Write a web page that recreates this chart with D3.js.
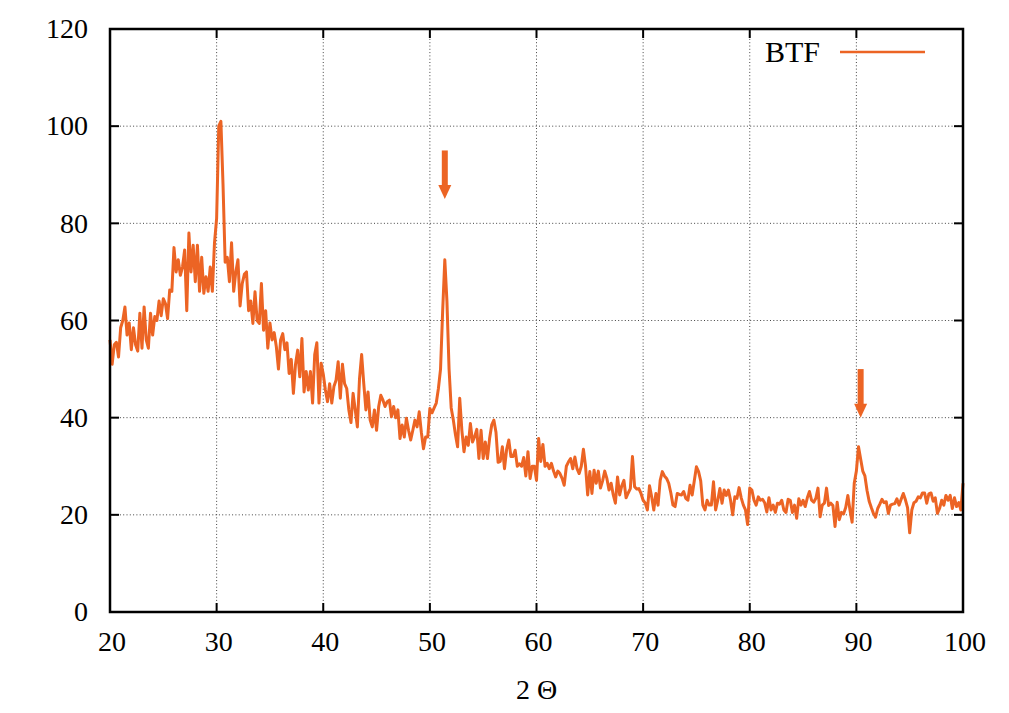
<!DOCTYPE html>
<html>
<head>
<meta charset="utf-8">
<script src="https://cdn.jsdelivr.net/npm/d3@7/dist/d3.min.js"></script>
<style>
  body { margin: 0; background: #fff; }
  text { font-family: "Liberation Serif", "DejaVu Serif", serif; fill: #000; }
</style>
</head>
<body>
<div id="chart-area"></div>
<script>
// XRD scan of BTF, 2 theta from 20 to 100 deg, 0.2 deg step
var scanStart = 20;
var scanStep = 0.2;
var btf = [
  // 20 - 30
  56, 51, 55, 55.5, 52.5, 58.5, 60, 62.8, 57, 59.5,
  54, 58.5, 55, 53.7, 61.5, 54.3, 62.8, 56, 54.3, 61.5,
  57, 60.8, 60, 64, 61, 64.5, 63.5, 60.4, 66.3, 66,
  75, 70, 72.5, 69.3, 71, 74.5, 62, 78, 70, 75.5,
  68, 75.5, 66, 73, 65.6, 69, 66, 71, 66, 76,
  // 30 - 40
  81, 100, 101, 88, 72, 73, 68, 76, 66, 70,
  72.5, 63, 67.6, 69.5, 70, 62, 64, 59.4, 65.9, 60,
  59.4, 67.6, 58, 62, 54.3, 59.5, 56, 57.5, 54.6, 50,
  56, 57.3, 54, 55.4, 49.1, 52, 45, 51, 53.9, 48.4,
  56.3, 45.3, 49.5, 45.7, 49.5, 43, 53, 55.4, 43, 51.2,
  // 40 - 50
  49, 45.7, 43.3, 47, 43, 46.4, 47.7, 51.5, 44, 51,
  47, 46, 41.6, 39, 45, 41.6, 38.1, 48, 53, 47,
  41.6, 45.3, 39.5, 38.1, 41.6, 37.4, 42.3, 44.6, 43.6, 42.3,
  43.3, 43.6, 40.2, 42.3, 40, 41.6, 35.7, 38.5, 36, 39.9,
  37.4, 35.4, 37.4, 39.5, 38.1, 41.2, 37, 33.6, 36, 36,
  // 50 - 60
  41.9, 41, 42, 43, 46, 50, 62, 72.5, 64, 50,
  42, 39.5, 36.5, 34, 44, 37.4, 33, 36, 34.3, 38.8,
  35, 36.1, 37.6, 31.6, 37.4, 31.6, 35, 31.6, 35.7, 38.5,
  39.5, 37, 30.8, 31, 34, 29.5, 33.5, 35.4, 32, 32,
  33.3, 30, 30.5, 30, 31.8, 28, 33, 27.5, 30, 30,
  // 60 - 70
  27.1, 35.7, 31, 34.5, 30, 30.6, 29.5, 30.6, 29, 27.8,
  29, 28.5, 27.5, 26.1, 30, 30.9, 31.6, 29.5, 31.9, 29.5,
  28.5, 30, 33.5, 30, 24.1, 28.9, 24.4, 29.2, 26.5, 29,
  25.5, 27, 29, 27.5, 25.1, 26.5, 24.1, 22.4, 27.8, 24.1,
  26, 27.1, 23.5, 24.5, 25.4, 32, 25.8, 25.3, 25.4, 24.4,
  // 70 - 80
  23, 22.4, 21, 26, 23.7, 21, 24.4, 22, 27.1, 28.9,
  28, 27.5, 26.5, 24.5, 22, 21.7, 24.4, 24.2, 24.1, 24.8,
  23.4, 23, 26.1, 24.1, 27, 29.9, 28.9, 27, 22, 21,
  23, 22, 22, 26.8, 21, 23, 25.4, 22.4, 25.1, 24,
  25.1, 23, 20, 23.7, 23.4, 25.6, 23.5, 22, 21, 18,
  // 80 - 90
  25.5, 25.1, 23, 22, 23.7, 23, 23.2, 22.5, 20.6, 23.5,
  21, 22, 20.5, 22.4, 22.2, 23, 21, 20.5, 23.2, 23,
  20.5, 22, 19.3, 23.3, 22, 23, 21.7, 23.5, 24.8, 23,
  22.6, 23.4, 25.5, 19.6, 22, 22.4, 25.5, 21.9, 22.4, 21.9,
  17.6, 22.6, 19, 20.5, 20.2, 21.5, 24, 21, 18.5, 26.5,
  // 90 - 100
  29, 34, 31.5, 29, 28, 25, 22.8, 21.5, 20.3, 19.5,
  21.3, 22.2, 23.2, 22.5, 22.7, 20.3, 22, 22.2, 22.3, 23.3,
  22, 23.2, 24.4, 23.1, 21.5, 16.3, 21, 22.5, 22.8, 23.7,
  23.5, 24.5, 24.5, 22.4, 24.3, 24.5, 22.8, 23.5, 20.3, 21.3,
  23, 22, 24, 23, 24, 21.3, 23.5, 21.7, 22.5, 21,
  26.5
];
var xTicks = [20, 30, 40, 50, 60, 70, 80, 90, 100];
var yTicks = [0, 20, 40, 60, 80, 100, 120];
// peak markers: angle, arrow start and end intensity
var arrowAngles = [51.4, 90.4];
var arrowFrom = [95, 50];
var arrowTo = [85, 40];
var seriesName = 'BTF';
var xTitle = '2 \u0398';

var lineColor = '#ec6424';
var margin = {top: 29, left: 110, right: 46, bottom: 101};
var width = 1009 - margin.left - margin.right;
var height = 713 - margin.top - margin.bottom;

var svg = d3.select('#chart-area')
  .append('svg')
    .attr('width', 1009)
    .attr('height', 713)
  .append('g')
    .attr('transform', 'translate(' + margin.left + ',' + margin.top + ')');

var x = d3.scaleLinear()
  .domain([20, 100])
  .range([0, width]);
var y = d3.scaleLinear()
  .domain([0, 120])
  .range([height, 0]);

// Grid
svg.selectAll('.xgrid')
  .data(xTicks.slice(1, -1))
  .enter().append('line')
    .attr('class', 'xgrid')
    .attr('x1', d => x(d)).attr('x2', d => x(d))
    .attr('y1', 0).attr('y2', height)
    .attr('stroke', '#444')
    .attr('stroke-width', 1)
    .attr('stroke-dasharray', '1,2.3');
svg.selectAll('.ygrid')
  .data(yTicks.slice(1, -1))
  .enter().append('line')
    .attr('class', 'ygrid')
    .attr('x1', 0).attr('x2', width)
    .attr('y1', d => y(d)).attr('y2', d => y(d))
    .attr('stroke', '#444')
    .attr('stroke-width', 1)
    .attr('stroke-dasharray', '1,2.3');

// Data line
var line = d3.line()
  .x((d, i) => x(scanStart + i * scanStep))
  .y(d => y(d));
svg.append('path')
  .datum(btf)
  .attr('d', line)
  .attr('fill', 'none')
  .attr('stroke', lineColor)
  .attr('stroke-width', 3)
  .attr('stroke-linejoin', 'round');

// Arrows
var headLen = 14, headHalf = 6.5;
arrowAngles.forEach(function(a, i) {
  var ax = x(a), y0 = y(arrowFrom[i]), y1 = y(arrowTo[i]);
  svg.append('line')
    .attr('x1', ax).attr('x2', ax)
    .attr('y1', y0).attr('y2', y1 - headLen + 1)
    .attr('stroke', lineColor)
    .attr('stroke-width', 6);
  svg.append('path')
    .attr('d', 'M' + (ax - headHalf) + ',' + (y1 - headLen) + 'L' + (ax + headHalf) + ',' + (y1 - headLen) + 'L' + ax + ',' + y1 + 'Z')
    .attr('fill', lineColor);
});

// Ticks (inward, mirrored)
var tickLen = 9;
xTicks.forEach(function(d) {
  svg.append('line').attr('x1', x(d)).attr('x2', x(d)).attr('y1', height).attr('y2', height - tickLen)
    .attr('stroke', '#000').attr('stroke-width', 2);
  svg.append('line').attr('x1', x(d)).attr('x2', x(d)).attr('y1', 0).attr('y2', tickLen)
    .attr('stroke', '#000').attr('stroke-width', 2);
});
yTicks.forEach(function(d) {
  svg.append('line').attr('x1', 0).attr('x2', tickLen).attr('y1', y(d)).attr('y2', y(d))
    .attr('stroke', '#000').attr('stroke-width', 2);
  svg.append('line').attr('x1', width).attr('x2', width - tickLen).attr('y1', y(d)).attr('y2', y(d))
    .attr('stroke', '#000').attr('stroke-width', 2);
});

// Frame
svg.append('rect')
  .attr('width', width)
  .attr('height', height)
  .attr('fill', 'none')
  .attr('stroke', '#000')
  .attr('stroke-width', 2.5);

// Tick labels
svg.selectAll('.xlab')
  .data(xTicks)
  .enter().append('text')
    .attr('class', 'xlab')
    .attr('x', d => x(d) + 2)
    .attr('y', height + 39)
    .attr('text-anchor', 'middle')
    .attr('font-size', '28px')
    .text(d => d);
svg.selectAll('.ylab')
  .data(yTicks)
  .enter().append('text')
    .attr('class', 'ylab')
    .attr('x', -22)
    .attr('y', d => y(d))
    .attr('dy', '0.33em')
    .attr('text-anchor', 'end')
    .attr('font-size', '28px')
    .text(d => d);

// X title
svg.append('text')
  .attr('x', width / 2)
  .attr('y', height + 87)
  .attr('text-anchor', 'middle')
  .attr('font-size', '28px')
  .text(xTitle);

// Legend
svg.append('text')
  .attr('x', 710)
  .attr('y', 33)
  .attr('text-anchor', 'end')
  .attr('font-size', '30px')
  .text(seriesName);
svg.append('line')
  .attr('x1', 730).attr('x2', 815)
  .attr('y1', 23).attr('y2', 23)
  .attr('stroke', lineColor)
  .attr('stroke-width', 2.5);
</script>
</body>
</html>
